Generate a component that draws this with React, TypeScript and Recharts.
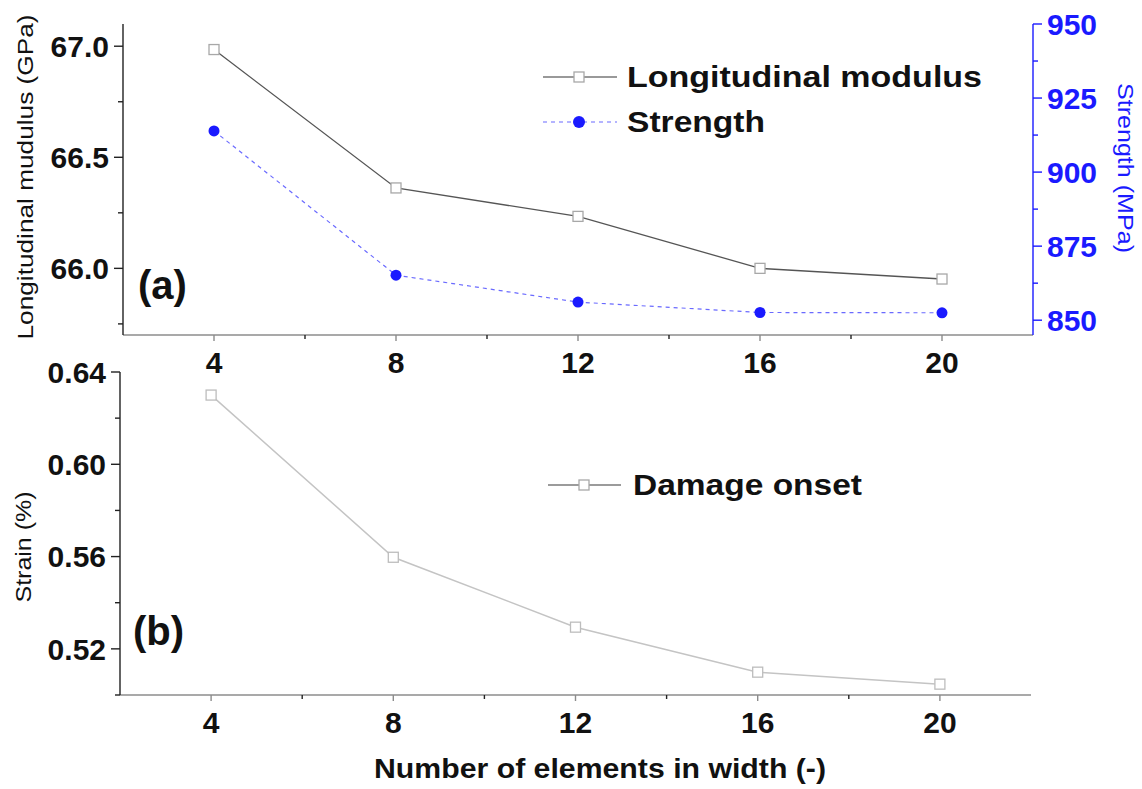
import { LineChart, Line, XAxis, YAxis, Legend } from 'recharts'

const FONT = '"Liberation Sans", Arial, Helvetica, sans-serif'
const BLUE = '#1a1aff'
const AXIS_GRAY = '#8c8c8c'

// number of elements across the width
const elements = [4, 8, 12, 16, 20]
// panel (a)
const modulusGPa = [66.985, 66.362, 66.234, 66.0, 65.952]
const strengthMPa = [913.9, 865.2, 856.1, 852.6, 852.5]
// panel (b)
const damageStrain = [0.63, 0.5597, 0.5294, 0.5099, 0.5047]

const xTicks = [4, 6, 8, 10, 12, 14, 16, 18, 20]
const xLabelTicks = [4, 8, 12, 16, 20]
const modulusTicks = [65.75, 66.0, 66.25, 66.5, 66.75, 67.0]
const modulusLabelTicks = [66.0, 66.5, 67.0]
const strengthTicks = [850, 862.5, 875, 887.5, 900, 912.5, 925, 937.5, 950]
const strengthLabelTicks = [850, 875, 900, 925, 950]
const strainTicks = [0.5, 0.52, 0.54, 0.56, 0.58, 0.6, 0.62, 0.64]
const strainLabelTicks = [0.52, 0.56, 0.6, 0.64]

const topData = elements.map((n, i) => ({ n, modulus: modulusGPa[i], strength: strengthMPa[i] }))
const bottomData = elements.map((n, i) => ({ n, strain: damageStrain[i] }))

const tickText = {
  fontFamily: FONT,
  fontWeight: 'bold' as const,
  fontSize: 30,
}

const leftTick = (labels: number[], digits: number) => (p: any) => {
  const { x, y, payload } = p
  const major = labels.includes(payload.value)
  return (
    <g>
      <line x1={x - (major ? 9 : 5)} x2={x} y1={y} y2={y} stroke="#222" strokeWidth={1.4} />
      {major && (
        <text x={x - 14} y={y} dy="0.36em" textAnchor="end" fill="#111" {...tickText}>
          {payload.value.toFixed(digits)}
        </text>
      )}
    </g>
  )
}

const rightTick = (p: any) => {
  const { x, y, payload } = p
  const major = strengthLabelTicks.includes(payload.value)
  return (
    <g>
      <line x1={x} x2={x + (major ? 9 : 5)} y1={y} y2={y} stroke={BLUE} strokeWidth={1.4} />
      {major && (
        <text x={x + 14} y={y} dy="0.36em" textAnchor="start" fill={BLUE} {...tickText}>
          {payload.value.toFixed(0)}
        </text>
      )}
    </g>
  )
}

const bottomTick = (p: any) => {
  const { x, y, payload } = p
  const major = xLabelTicks.includes(payload.value)
  return (
    <g>
      <line x1={x} x2={x} y1={y} y2={y + (major ? 6 : 4)} stroke={major ? AXIS_GRAY : '#222'} strokeWidth={1.4} />
      {major && (
        <text x={x} y={y + 38} textAnchor="middle" fill="#111" {...tickText}>
          {payload.value}
        </text>
      )}
    </g>
  )
}

const topTick = (p: any) => {
  const { x, y, payload } = p
  const major = xLabelTicks.includes(payload.value)
  return <line x1={x} x2={x} y1={y} y2={y + (major ? 7 : 5)} stroke={major ? AXIS_GRAY : '#222'} strokeWidth={1.4} />
}

const squareDot = (stroke: string) => (p: any) => {
  const { cx, cy, index } = p
  return (
    <rect key={`sq-${index}`} x={cx - 5} y={cy - 5} width={10} height={10} fill="#fff" stroke={stroke} strokeWidth={1.3} />
  )
}

const blueDot = (p: any) => {
  const { cx, cy, index } = p
  return <circle key={`c-${index}`} cx={cx} cy={cy} r={5.5} fill={BLUE} />
}

const axisTitle = (text: string, x: number, y: number, angle: number, len: number, color = '#111') => () => (
  <text
    x={x}
    y={y}
    transform={`rotate(${angle} ${x} ${y})`}
    textAnchor="middle"
    fontFamily={FONT}
    fontSize={22}
    fill={color}
    textLength={len}
    lengthAdjust="spacingAndGlyphs"
  >
    {text}
  </text>
)

const legendText = {
  fontFamily: FONT,
  fontWeight: 'bold' as const,
  fontSize: 29,
  fill: '#111',
}

const topLegend = (props: any) => {
  const names = (props.payload || []).map((e: any) => e.value)
  return (
    <svg width={470} height={100}>
      <line x1={13} x2={87} y1={27} y2={27} stroke="#777" strokeWidth={1.3} />
      <rect x={44} y={22} width={10} height={10} fill="#fff" stroke="#a8a8a8" strokeWidth={1.3} />
      <text x={97} y={37} textLength={355} lengthAdjust="spacingAndGlyphs" {...legendText}>
        {names[0]}
      </text>
      <line x1={13} x2={87} y1={72} y2={72} stroke="#6a6aff" strokeWidth={1.2} strokeDasharray="4 4" />
      <circle cx={49} cy={72} r={6} fill={BLUE} />
      <text x={97} y={82} textLength={138} lengthAdjust="spacingAndGlyphs" {...legendText}>
        {names[1]}
      </text>
    </svg>
  )
}

const bottomLegend = (props: any) => {
  const names = (props.payload || []).map((e: any) => e.value)
  return (
    <svg width={350} height={60}>
      <line x1={13} x2={86} y1={30} y2={30} stroke="#7a7a7a" strokeWidth={1.3} />
      <rect x={44} y={25} width={10} height={10} fill="#fff" stroke="#a8a8a8" strokeWidth={1.3} />
      <text x={98} y={40} textLength={229} lengthAdjust="spacingAndGlyphs" {...legendText}>
        {names[0]}
      </text>
    </svg>
  )
}

export default function App() {
  return (
    <div style={{ position: 'absolute', left: 0, top: 0, width: 1142, height: 789, background: '#fff' }}>
      {/* panel (a) */}
      <div style={{ position: 'absolute', left: 0, top: 0 }}>
        <LineChart width={1142} height={789} data={topData} margin={{ top: 24, left: 43, right: 29, bottom: 409 }}>
          <XAxis
            dataKey="n"
            type="number"
            domain={[2, 22]}
            ticks={xTicks}
            interval={0}
            height={45}
            tickSize={0}
            tickMargin={0}
            tickLine={false}
            tick={bottomTick}
            axisLine={{ stroke: AXIS_GRAY, strokeWidth: 1.6 }}
          />
          <XAxis
            xAxisId="top"
            dataKey="n"
            type="number"
            orientation="top"
            domain={[2, 22]}
            ticks={xTicks}
            interval={0}
            height={0}
            tickSize={0}
            tickMargin={0}
            tickLine={false}
            tick={topTick}
            axisLine={{ stroke: AXIS_GRAY, strokeWidth: 1.6 }}
          />
          <YAxis
            yAxisId="left"
            type="number"
            domain={[65.7, 67.1]}
            ticks={modulusTicks}
            interval={0}
            width={80}
            tickSize={0}
            tickMargin={0}
            tickLine={false}
            tick={leftTick(modulusLabelTicks, 1)}
            axisLine={{ stroke: '#222', strokeWidth: 1.4 }}
            label={axisTitle('Longitudinal mudulus (GPa)', 33, 177, -90, 325)}
          />
          <YAxis
            yAxisId="right"
            orientation="right"
            type="number"
            domain={[845, 950]}
            ticks={strengthTicks}
            interval={0}
            width={80}
            tickSize={0}
            tickMargin={0}
            tickLine={false}
            tick={rightTick}
            axisLine={{ stroke: BLUE, strokeWidth: 1.4 }}
            label={axisTitle('Strength (MPa)', 1118, 168, 90, 170, BLUE)}
          />
          <Legend
            layout="horizontal"
            verticalAlign="middle"
            align="center"
            wrapperStyle={{ left: 530, top: 50, width: 470, height: 100 }}
            content={topLegend}
          />
          <Line
            yAxisId="left"
            type="linear"
            dataKey="modulus"
            name="Longitudinal modulus"
            stroke="#555"
            strokeWidth={1.3}
            dot={squareDot('#a8a8a8')}
            activeDot={false}
            isAnimationActive={false}
          />
          <Line
            yAxisId="right"
            type="linear"
            dataKey="strength"
            name="Strength"
            stroke="#6a6aff"
            strokeWidth={1.2}
            strokeDasharray="4 4"
            dot={blueDot}
            activeDot={false}
            isAnimationActive={false}
          />
        </LineChart>
      </div>

      {/* panel (b) */}
      <div style={{ position: 'absolute', left: 0, top: 0 }}>
        <LineChart width={1142} height={789} data={bottomData} margin={{ top: 372, left: 40, right: 111, bottom: 0 }}>
          <XAxis
            dataKey="n"
            type="number"
            domain={[2, 22]}
            ticks={xTicks}
            interval={0}
            height={94}
            tickSize={0}
            tickMargin={0}
            tickLine={false}
            tick={bottomTick}
            axisLine={{ stroke: AXIS_GRAY, strokeWidth: 1.6 }}
            label={() => (
              <text x={600} y={778} textAnchor="middle" textLength={452} lengthAdjust="spacingAndGlyphs" {...legendText} fontSize={28}>
                Number of elements in width (-)
              </text>
            )}
          />
          <YAxis
            type="number"
            domain={[0.5, 0.64]}
            ticks={strainTicks}
            interval={0}
            width={80}
            tickSize={0}
            tickMargin={0}
            tickLine={false}
            tick={leftTick(strainLabelTicks, 2)}
            axisLine={{ stroke: '#222', strokeWidth: 1.4 }}
            label={axisTitle('Strain (%)', 31, 547, -90, 111)}
          />
          <Legend
            layout="horizontal"
            verticalAlign="middle"
            align="center"
            wrapperStyle={{ left: 535, top: 455, width: 350, height: 60 }}
            content={bottomLegend}
          />
          <Line
            type="linear"
            dataKey="strain"
            name="Damage onset"
            stroke="#c4c4c4"
            strokeWidth={1.5}
            dot={squareDot('#bdbdbd')}
            activeDot={false}
            isAnimationActive={false}
          />
        </LineChart>
      </div>

      <svg width={1142} height={789} style={{ position: 'absolute', left: 0, top: 0, pointerEvents: 'none' }}>
        <text x={138} y={299} fontFamily={FONT} fontWeight="bold" fontSize={40} fill="#111">
          (a)
        </text>
        <text x={133} y={645} fontFamily={FONT} fontWeight="bold" fontSize={40} fill="#111">
          (b)
        </text>
      </svg>
    </div>
  )
}
